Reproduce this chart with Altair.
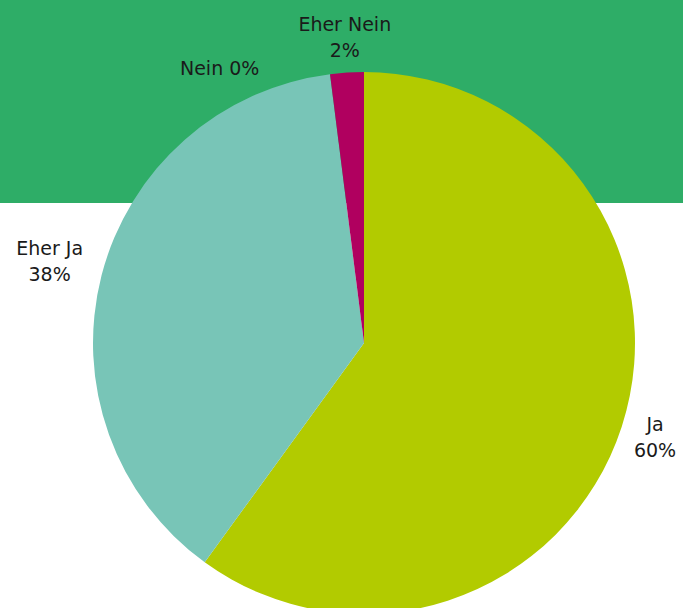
import altair as alt
import pandas as pd

categories = ["Ja", "Eher Ja", "Nein", "Eher Nein"]
values = [60, 38, 0, 2]
labels = ["Ja\n60%", "Eher Ja\n38%", "Nein 0%", "Eher Nein\n2%"]
colors = ["#b2cb00", "#78c5b7", "#e0e0e0", "#b0005f"]

df = pd.DataFrame({
    "cat": categories,
    "val": values,
    "label": labels,
    "ord": list(range(len(categories))),
})

W, H = 683, 608
CX, CY, R = 364, 343, 271

tscale = alt.Scale(domain=[0, 100], range=[0, 6.283185307179586])

base = alt.Chart(df).transform_window(
    end="sum(val)", sort=[alt.SortField("ord")], frame=[None, 0]
).transform_calculate(
    start="datum.end - datum.val", mid="datum.end - datum.val / 2"
)

band = alt.Chart(df).mark_rect(color="#2ead67").encode(
    x=alt.value(0), x2=alt.value(W), y=alt.value(0), y2=alt.value(203)
)

pie = base.mark_arc(radius=R).encode(
    theta=alt.Theta("start:Q", scale=tscale, stack=None),
    theta2="end:Q",
    color=alt.Color("cat:N", scale=alt.Scale(domain=categories, range=colors), legend=None),
    x=alt.value(CX), y=alt.value(CY),
)

txt_kw = dict(font="DejaVu Sans", fontSize=19, color="#1a1a1a", lineBreak="\n",
              align="center", baseline="middle", lineHeight=26)

def labels_layer(cats, dx=0, dy=0):
    return base.transform_filter(
        alt.FieldOneOfPredicate(field="cat", oneOf=cats)
    ).mark_text(radius=306, dx=dx, dy=dy, **txt_kw).encode(
        theta=alt.Theta("mid:Q", scale=tscale, stack=None),
        text="label:N", x=alt.value(CX), y=alt.value(CY),
    )

t1 = labels_layer(["Ja", "Eher Nein"], dy=-13)
t2 = labels_layer(["Eher Ja"], dx=-18, dy=-18)
t3 = labels_layer(["Nein"], dx=-106, dy=30)

chart = alt.layer(band, pie, t1, t2, t3).properties(
    width=W, height=H, padding=0, autosize=alt.AutoSizeParams(type="none"),
    background="white",
).configure_view(stroke=None)

chart.save("out.html", embed_options={"renderer": "svg", "actions": False})
